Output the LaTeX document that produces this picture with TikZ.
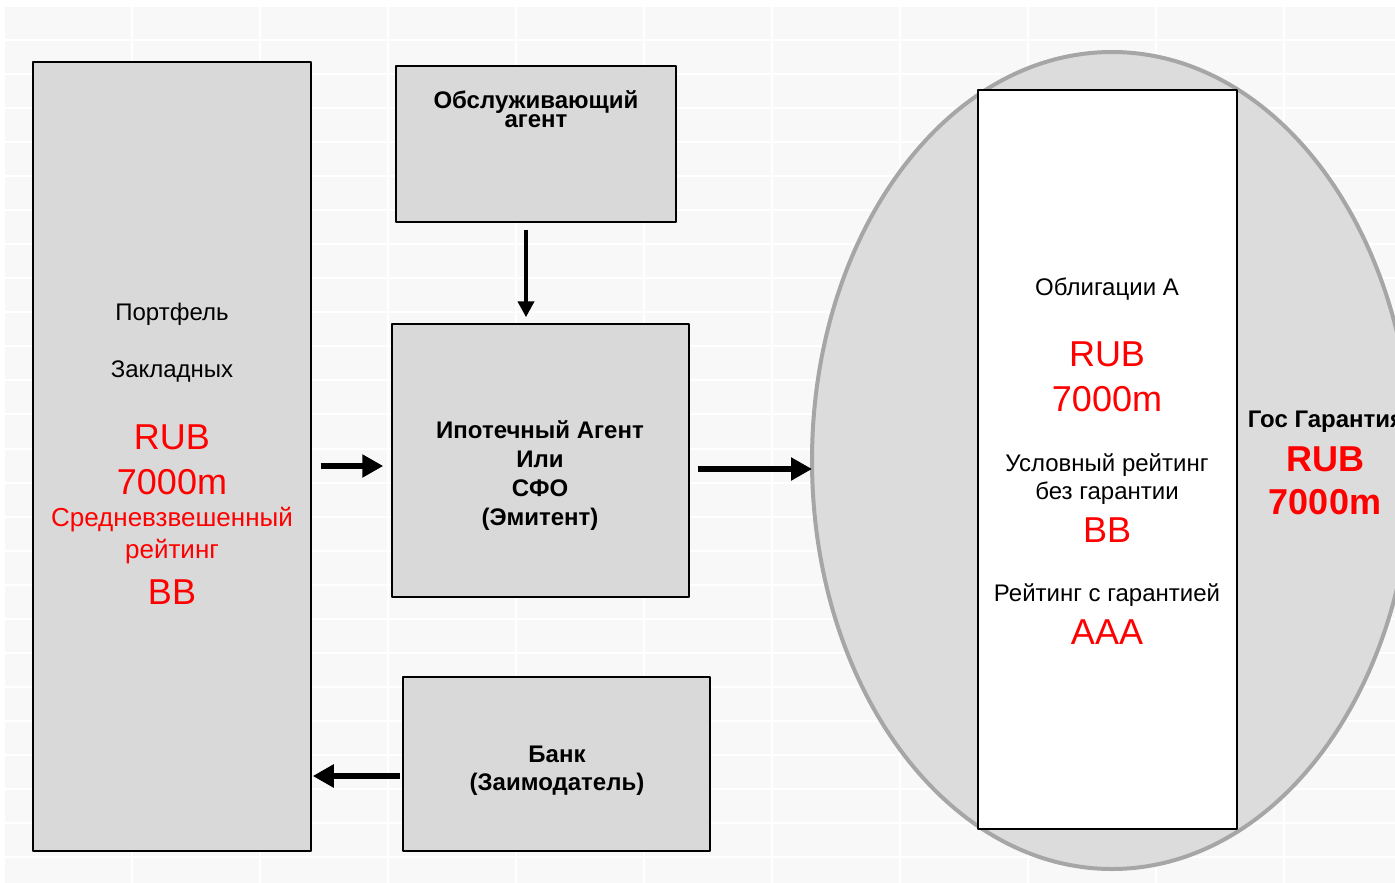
\documentclass[tikz,border=0pt]{standalone}
\usepackage{fontspec}
\setmainfont{Liberation Sans}
\usetikzlibrary{arrows.meta,shapes.geometric}
\definecolor{boxgray}{HTML}{D9D9D9}
\definecolor{cellgray}{HTML}{F8F8F8}
\definecolor{rimgray}{HTML}{A6A6A6}
\definecolor{poolgray}{HTML}{DCDCDC}
\tikzset{
	blk/.style={draw=black, line width=1.5pt, fill=boxgray, inner sep=0pt},
	lbl/.style={align=center, inner sep=0pt, yshift=-2pt, font=\fontsize{24}{29}\selectfont},
	bfl/.style={lbl, font=\fontsize{24}{29}\selectfont\bfseries},
	redbig/.style={lbl, text=red, font=\fontsize{36}{40}\selectfont},
	redmid/.style={lbl, text=red, font=\fontsize{26}{30}\selectfont},
	fatarrow/.style={-{Triangle[length=21pt,width=22pt]}, line width=6.5pt},
	slimarrow/.style={-{Triangle[length=16pt,width=16pt]}, line width=4pt},
}
\begin{document}
\begin{tikzpicture}[x=1pt, y=-1pt, line join=round]
	\clip (0,0) rectangle (1395,883);
	% sheet cells
	\fill[cellgray] (5,7) rectangle (1395,883);
	\foreach \i in {1,...,10}
	\draw[white, line width=2pt] (4+128*\i,7) -- (4+128*\i,883);
	\foreach \j in {1,...,25}
	\draw[white, line width=2pt] (5,6+34.04*\j) -- (1395,6+34.04*\j);
	
	\node[blk, minimum width=278pt, minimum height=789pt] (port) at (172,456.5) {};
	\node[blk, minimum width=280pt, minimum height=156pt] (serv) at (536,144) {};
	\node[blk, minimum width=297pt, minimum height=273pt] (mid) at (540.5,460.5) {};
	\node[blk, minimum width=307pt, minimum height=174pt] (bank) at (556.5,764) {};
	\node[ellipse, draw=rimgray, line width=4pt, fill=poolgray, inner sep=0pt,
	minimum width=600pt, minimum height=817pt] (pool) at (1112,460.5) {};
	\node[draw=black, line width=1.5pt, fill=white, inner sep=0pt,
	minimum width=259pt, minimum height=739pt] (bond) at (1107.5,459.5) {};
	
	\node[bfl, font=\fontsize{24}{19}\selectfont\bfseries] (servtxt) at (536,107)
	{Обслуживающий\\агент};
	\node[bfl] (midtxt) at (540,473.5) {Ипотечный Агент\\Или\\СФО\\(Эмитент)};
	\node[bfl, font=\fontsize{24}{28}\selectfont\bfseries] (banktxt) at (557,769)
	{Банк\\(Заимодатель)};
	
	\foreach \y/\t/\s in {312/Портфель/lbl, 370/Закладных/lbl, 435/RUB/redbig,
		480/7000m/redbig, 518/Средневзвешенный/redmid, 550/рейтинг/redmid, 590/BB/redbig}
	\node[\s] (port-\y) at (172,\y) {\t};
	
	\foreach \y/\t/\s in {287/Облигации А/lbl, 352/RUB/redbig, 397/7000m/redbig,
		463/Условный рейтинг/lbl, 491/без гарантии/lbl, 528/BB/redbig,
		593/Рейтинг с гарантией/lbl, 630/AAA/redbig}
	\node[\s] (bond-\y) at (1107,\y) {\t};
	
	\node[bfl] (gar) at (1326,420) {Гос Гарантия};
	\node[redbig, font=\fontsize{36}{40}\selectfont\bfseries] (gar-rub) at (1325,457) {RUB};
	\node[redbig, font=\fontsize{36}{40}\selectfont\bfseries] (gar-sum) at (1325,500) {7000m};
	
	\draw[slimarrow, shorten <=7pt, shorten >=6pt] ([xshift=-10pt]serv.south)
	-- ([xshift=-10pt]serv.south |- mid.north);
	\draw[fatarrow, shorten <=9pt, shorten >=8pt] ([yshift=-5.5pt]mid.west -| port.east)
	-- ([yshift=-5.5pt]mid.west);
	\draw[fatarrow, shorten <=8pt, shorten >=-2pt] ([yshift=-8.5pt]mid.east)
	-- ([yshift=-8.5pt]mid.east -| pool.west);
	\draw[fatarrow, shorten <=2pt, shorten >=1pt] ([yshift=-12pt]bank.west)
	-- ([yshift=-12pt]bank.west -| port.east);
\end{tikzpicture}
\end{document}
